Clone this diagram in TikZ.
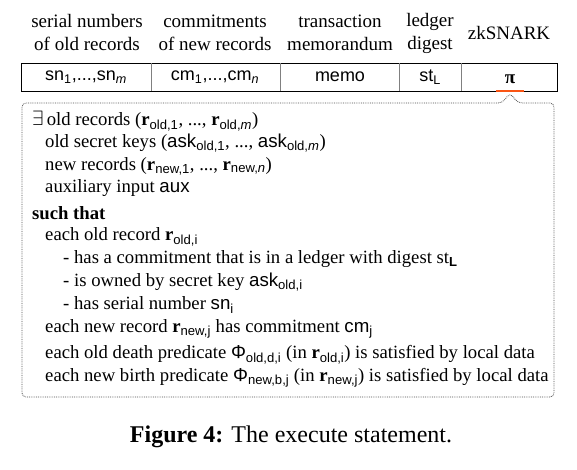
\documentclass[tikz,border=0pt]{standalone}
\usepackage{fontspec}
\setmainfont{Liberation Serif}
\newfontfamily\arialfont{Liberation Sans}
\newcommand\sv[1]{{\arialfont #1}}
\newcommand\sub[1]{\textsubscript{\arialfont #1}}
\newcommand\rb{\textbf{r}}
\definecolor{pimark}{RGB}{250,85,20}

\begin{document}
\begin{tikzpicture}[x=1pt,y=-1pt,
    head/.style={align=center,font=\fontsize{19}{23}\selectfont},
    cell/.style={font=\arialfont\fontsize{18}{20}\selectfont},
    stmt/.style={anchor=west,inner sep=0pt,font=\fontsize{18.7}{20}\selectfont}]
  \useasboundingbox (0,0) rectangle (577,470);
  % column headings
  \node[head] (hsn) at (87,33) {serial numbers\\of old records};
  \node[head] (hcm) at (215,33) {commitments\\of new records};
  \node[head] (hmemo) at (340,33) {transaction\\memorandum};
  \node[head] (hst) at (430,33) {ledger\\digest};
  \node[head] (hpi) at (509,33) {zkSNARK};
  % the transaction
  \draw[thick] (21,63) rectangle (557,91);
  \foreach \x in {151,280,399,461}
    \draw[gray] (\x,63) -- (\x,91);
  \node[cell] (sn) at (86,77) {sn\sub{1},...,sn\sub{\itshape m}};
  \node[cell] (cm) at (215,77) {cm\sub{1},...,cm\sub{\itshape n}};
  \node[cell] (memo) at (340,77) {memo};
  \node[cell] (st) at (430,77) {st\sub{L}};
  \node[font=\fontsize{19}{20}\selectfont] (pi) at (510,79) {\textbf{π}};
  \draw[pimark, line width=2.5pt] (496,91) -- (524,91);
  % statement behind pi
  \coordinate (tip) at (510,93);
  \draw[gray!60!black, line width=0.8pt, densely dotted, rounded corners=4pt] (tip) -- (518,103) -- (554,103) -- (554,397)
    -- (22,397) -- (22,103) -- (502,103) -- cycle;
  \node[stmt] (l1) at (32,121) {{\fontsize{20}{20}\selectfont$\exists$}\,old records (\rb\sub{old,1}, ..., \rb\sub{old,\itshape m})};
  \node[stmt] (l2) at (45,143) {old secret keys (\sv{ask}\sub{old,1}, ..., \sv{ask}\sub{old,\itshape m})};
  \node[stmt] (l3) at (45,166) {new records (\rb\sub{new,1}, ..., \rb\sub{new,\itshape n})};
  \node[stmt] (l4) at (45,188) {auxiliary input \sv{aux}};
  \node[stmt] (l5) at (32,213) {\textbf{such that}};
  \node[stmt] (l6) at (45,237) {each old record \rb\sub{old,i}};
  \node[stmt] (l7) at (63,259) {- has a commitment that is in a ledger with digest st\sub{\bfseries L}};
  \node[stmt] (l8) at (63,282) {- is owned by secret key \sv{ask}\sub{old,i}};
  \node[stmt] (l9) at (63,305) {- has serial number \sv{sn}\sub{i}};
  \node[stmt] (l10) at (45,329) {each new record \rb\sub{new,j} has commitment \sv{cm}\sub{j}};
  \node[stmt] (l11) at (45,355) {each old death predicate \sv{Φ}\sub{old,d,i} (in \rb\sub{old,i}) is satisfied by local data};
  \node[stmt] (l12) at (45,378) {each new birth predicate \sv{Φ}\sub{new,b,j} (in \rb\sub{new,j}) is satisfied by local data};
  % caption
  \node[font=\fontsize{24}{26}\selectfont] (caption) at (291,437) {\textbf{Figure 4:} The execute statement.};
\end{tikzpicture}
\end{document}
